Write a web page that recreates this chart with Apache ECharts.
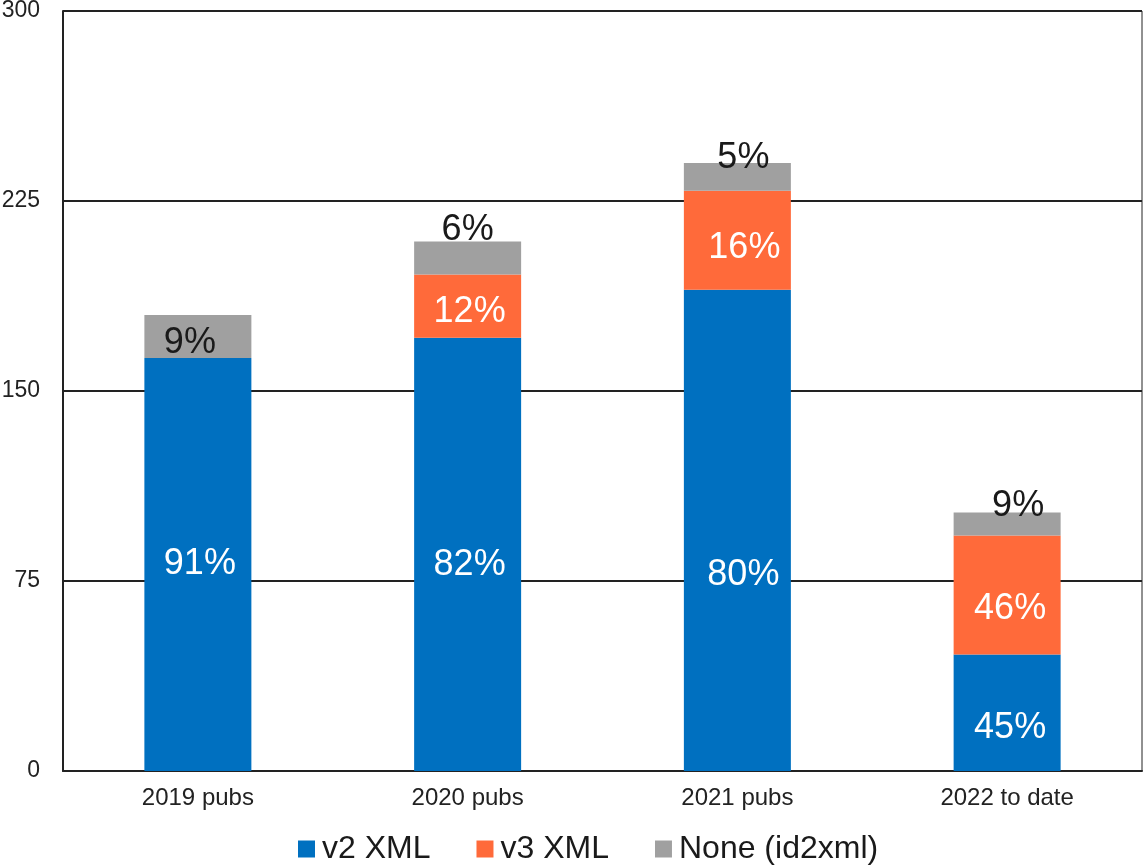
<!DOCTYPE html>
<html>
<head>
<meta charset="utf-8">
<script src="https://cdn.jsdelivr.net/npm/echarts@6/dist/echarts.min.js"></script>
<style>html,body{margin:0;padding:0;background:#fff}#c{width:1143px;height:865px}</style>
</head>
<body>
<div id="c"></div>
<script>
const categories = ['2019 pubs', '2020 pubs', '2021 pubs', '2022 to date'];
const seriesNames = ['v2 XML', 'v3 XML', 'None (id2xml)'];
const v2Values = [163, 171, 190, 46];
const v3Values = [0, 25, 39, 47];
const noneValues = [17, 13, 11, 9];
const v2Labels = ['91%', '82%', '80%', '45%'];
const v3Labels = ['', '12%', '16%', '46%'];
const noneLabels = ['9%', '6%', '5%', '9%'];
const yTicks = [0, 75, 150, 225, 300];

// label placement tweaks (style only)
const v2Off = [[2, 0], [2, 11], [6, 45], [3, 15]];
const v3Off = [[0, 0], [2, 6], [7, 8], [3, 14]];
const noneOff = [[-8, 28], [0, -11], [6, -5], [11, -7]];

const FONT = '"Liberation Sans", Arial, sans-serif';
const colors = ['#0070c0', '#ff6a3a', '#a0a0a0'];

function mk(vals, labels, offs) {
  return vals.map((v, i) => ({
    value: v,
    label: {
      show: labels[i] !== '',
      formatter: labels[i],
      offset: offs[i]
    }
  }));
}

const chart = echarts.init(document.getElementById('c'), null, {renderer: 'canvas'});
chart.setOption({
  animation: false,
  color: colors,
  textStyle: {fontFamily: FONT},
  grid: {left: 63, top: 11, right: 1, bottom: 94, show: true, borderColor: '#222', borderWidth: 1, containLabel: false, outerBoundsMode: 'none'},
  legend: {
    data: seriesNames,
    left: 298,
    top: 833,
    padding: 0,
    itemWidth: 17,
    itemHeight: 17,
    itemGap: 46,
    icon: 'rect',
    textStyle: {fontSize: 32, color: '#1a1a1a', fontFamily: FONT, padding: [0, 0, 0, 2]}
  },
  xAxis: {
    type: 'category',
    data: categories,
    axisLine: {show: true, lineStyle: {color: '#222', width: 2}},
    axisTick: {show: false},
    axisLabel: {fontSize: 24, color: '#222', margin: 15, fontFamily: FONT}
  },
  yAxis: {
    type: 'value',
    min: yTicks[0],
    max: yTicks[yTicks.length - 1],
    interval: yTicks[1] - yTicks[0],
    axisLine: {show: true, lineStyle: {color: '#222', width: 2}},
    axisTick: {show: false},
    axisLabel: {fontSize: 23, color: '#222', margin: 23, fontFamily: FONT},
    splitLine: {show: true, lineStyle: {color: '#222', width: 2}}
  },
  series: [
    {
      name: seriesNames[0], type: 'bar', stack: 's', barWidth: 107,
      itemStyle: {color: colors[0]},
      label: {show: true, position: 'inside', color: '#fff', fontSize: 36, fontFamily: FONT},
      data: mk(v2Values, v2Labels, v2Off)
    },
    {
      name: seriesNames[1], type: 'bar', stack: 's', barWidth: 107,
      itemStyle: {color: colors[1]},
      label: {show: true, position: 'inside', color: '#fff', fontSize: 36, fontFamily: FONT},
      data: mk(v3Values, v3Labels, v3Off)
    },
    {
      name: seriesNames[2], type: 'bar', stack: 's', barWidth: 107,
      itemStyle: {color: colors[2]},
      label: {show: true, position: ['50%', 0], align: 'center', verticalAlign: 'middle', color: '#1a1a1a', fontSize: 36, fontFamily: FONT},
      data: mk(noneValues, noneLabels, noneOff)
    }
  ]
});
</script>
</body>
</html>
